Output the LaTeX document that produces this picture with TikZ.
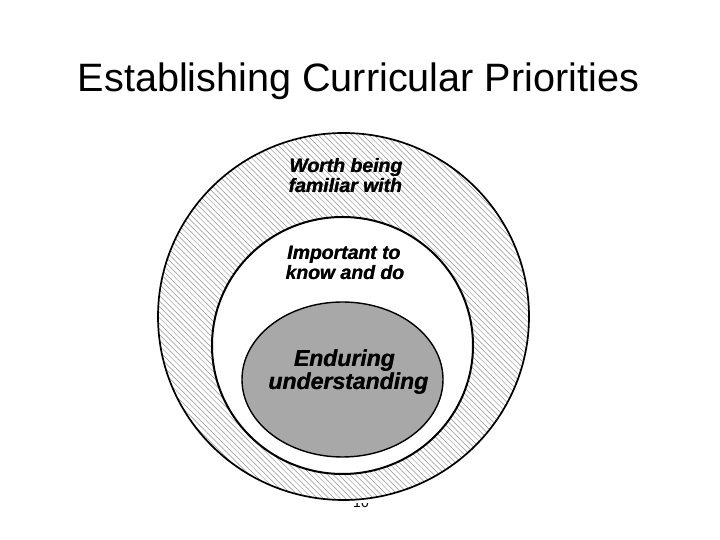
\documentclass[tikz,border=0pt]{standalone}
\usepackage{fontspec}
\setmainfont{Liberation Sans}
\newfontfamily\heavyfont{Liberation Sans Bold Italic}
\newcommand\heavytext[1]{\makebox[0pt][l]{#1}\kern0.45pt #1}
\begin{document}
\begin{tikzpicture}[x=1pt,y=1pt,
  ring/.style={draw=black},
  lbl/.style={font=\fontsize{19.4}{22}\selectfont\heavyfont, anchor=base, inner sep=0pt},
  big/.style={font=\fontsize{23}{26}\selectfont\heavyfont, anchor=base, inner sep=0pt},
  hatch/.style={draw=black!42, line width=0.5pt}]
\useasboundingbox (0,0) rectangle (720,540);
\fill[white] (0,0) rectangle (720,540);
% title
\node[anchor=base, inner sep=0pt, font=\fontsize{39.6}{44}\selectfont] (title) at (358.5,448) {Establishing Curricular Priorities};
% page number (partly hidden by the picture)
\node[anchor=base, inner sep=0pt, font=\fontsize{14}{16}\selectfont] (pnum) at (361,32) {10};
\fill[white] (150,37) rectangle (540,420);
% hatched outer ring
\begin{scope}
  \clip (343.5,223.5) ellipse [x radius=185.5, y radius=183.5];
  \foreach \c in {180,185.6,...,960} {
    \draw[hatch] (\c-600,600) -- (\c,0);
  }
\end{scope}
\draw[ring, line width=1.7pt] (343.5,223.5) ellipse [x radius=185.5, y radius=183.5];
\coordinate (outer) at (343.5,223.5);
% middle circle
\fill[white] (342.5,194.5) ellipse [x radius=130.5, y radius=128.5];
\draw[ring, line width=2pt] (342.5,194.5) ellipse [x radius=130.5, y radius=128.5];
% inner ellipse
\draw[ring, line width=1.4pt, fill=black!34] (342.5,160.5) ellipse [x radius=100.5, y radius=77.5];
% labels
\node[lbl] (w1) at (346,367) {\heavytext{Worth being}};
\node[lbl] (w2) at (345.5,347) {\heavytext{familiar with}};
\node[lbl] (i1) at (344,280) {\heavytext{Important to}};
\node[lbl] (i2) at (345,260) {\heavytext{know and do}};
\node[big] (e1) at (344.5,173) {\heavytext{Enduring}};
\node[big] (e2) at (348.5,150) {\heavytext{understanding}};
\end{tikzpicture}
\end{document}
